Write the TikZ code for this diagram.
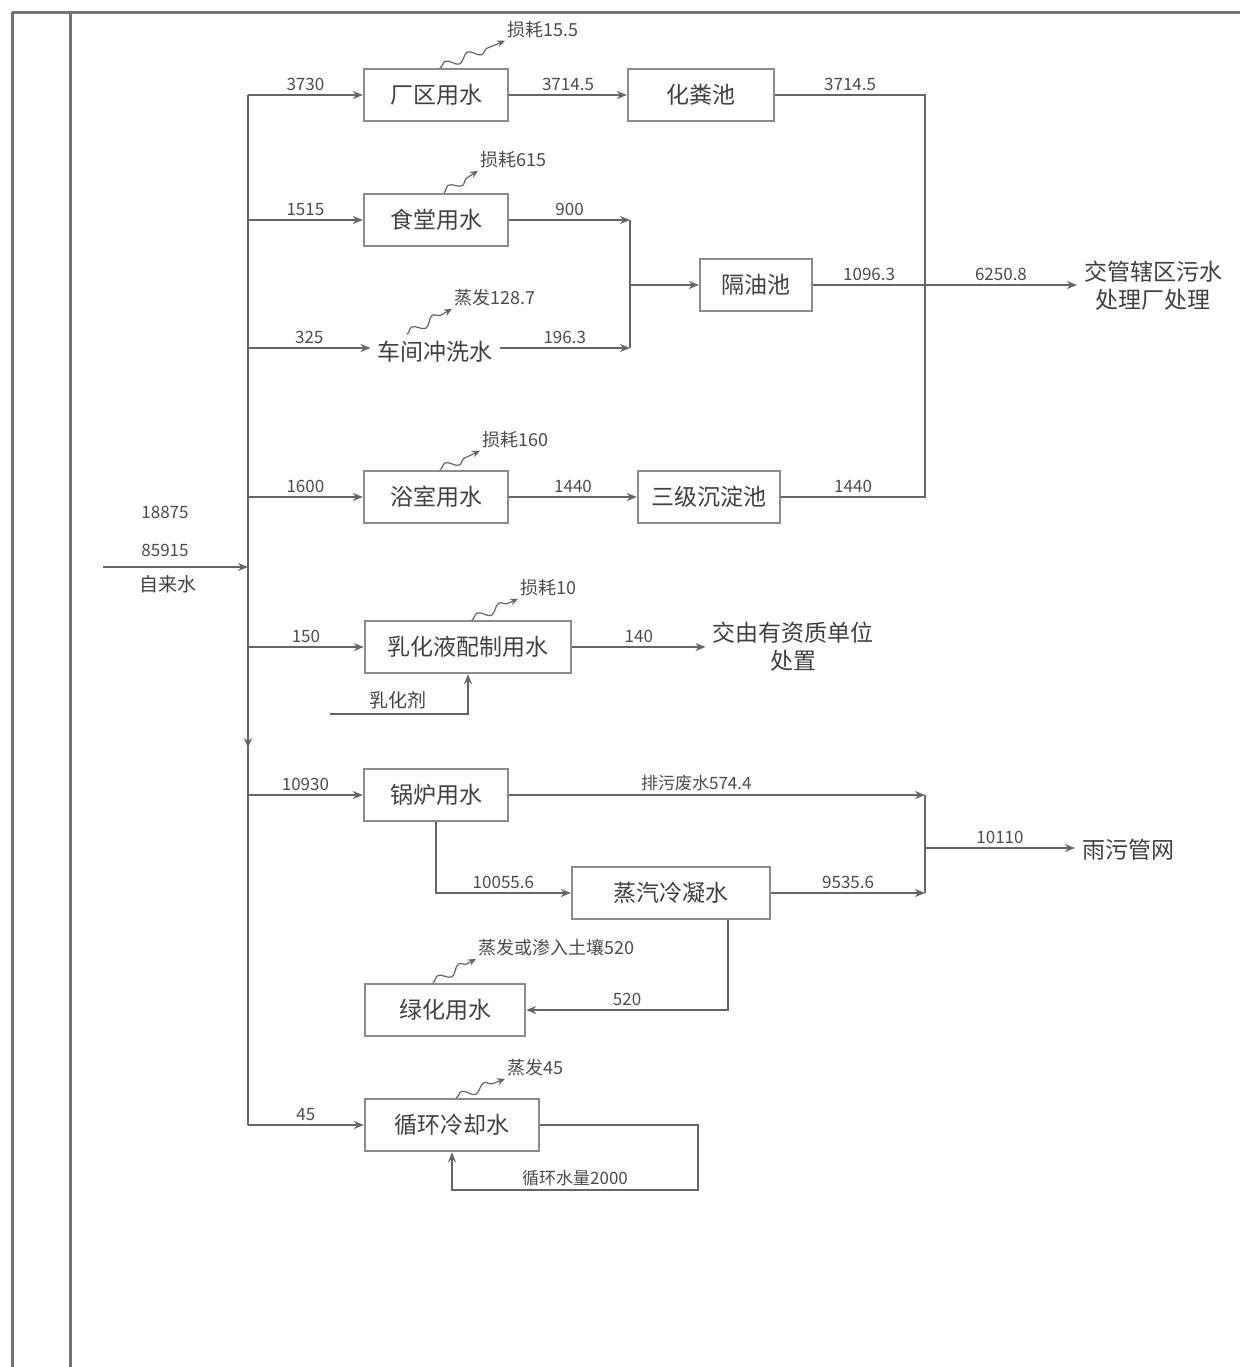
\documentclass[tikz,border=0pt]{standalone}
\usepackage{fontspec}
\setmainfont{Noto Sans CJK SC}
\usetikzlibrary{arrows.meta,positioning,decorations.pathmorphing}

\begin{document}
\begin{tikzpicture}[
    x=0.5pt, y=-0.5pt,
    % Units
    unit/.style={rectangle, draw=black!45, line width=1.2pt, minimum height=26pt, minimum width=72pt, inner xsep=4pt, font=\fontsize{11.5}{13}\selectfont, text=black!75},
    plain/.style={font=\fontsize{11.5}{14}\selectfont, text=black!75, align=center},
    % Flows
    flow/.style={-{Stealth[length=5pt,width=4pt]}, line width=1pt, draw=black!60},
    pipe/.style={line width=1pt, draw=black!60},
    num/.style={font=\fontsize{8.5}{10}\selectfont, text=black!70, inner sep=1.5pt},
    % Losses
    loss/.style={-{Stealth[length=4pt,width=3.5pt]}, draw=black!60, semithick, decorate, decoration={snake, amplitude=2pt, segment length=12pt, post length=4pt}},
    losslabel/.style={font=\fontsize{9}{10}\selectfont, text=black!70, anchor=west, inner sep=1pt},
    frame/.style={line width=1.5pt, draw=black!55}
]
\useasboundingbox (0,0) rectangle (1240,1367);

% Frame
\draw[frame] (12,12) -- (1240,12);
\draw[frame] (12,12) -- (12,1367);
\draw[frame] (70,12) -- (70,1367);

% Units
\node[unit] (u1) at (436,95) {厂区用水};
\node[unit, minimum width=73pt] (u2) at (701,95) {化粪池};
\node[unit] (u3) at (436,220) {食堂用水};
\node[plain] (u4) at (435,352) {车间冲洗水};
\node[unit, minimum width=56pt] (u5) at (756,285) {隔油池};
\node[unit] (u6) at (436,497) {浴室用水};
\node[unit, minimum width=71pt] (u7) at (709,497) {三级沉淀池};
\node[unit, minimum width=103pt] (u8) at (468,647) {乳化液配制用水};
\node[unit] (u9) at (436,795) {锅炉用水};
\node[unit, minimum width=99pt] (u10) at (671,893) {蒸汽冷凝水};
\node[unit, minimum width=80pt] (u11) at (445,1010) {绿化用水};
\node[unit, minimum width=87pt] (u12) at (452,1125) {循环冷却水};

% Outlets
\node[plain] (out1) at (1153,286) {交管辖区污水\\处理厂处理};
\node[plain] (out2) at (793,647) {交由有资质单位\\处置};
\node[plain] (out3) at (1128,850) {雨污管网};
\node[plain, font=\fontsize{9.5}{11}\selectfont] (agent) at (398,700) {乳化剂};

% Source
\coordinate (src) at (103,567);
\coordinate (tin) at (248,567);
\node[num] (qin) at (165,512) {18875};
\node[num] (qin2) at (165,550) {85915};
\node[plain, font=\fontsize{9.5}{11}\selectfont] (tap) at (168,584) {自来水};
\draw[flow] (src) -- (tin);

% Main header
\coordinate (b1) at (248,95);
\coordinate (b2) at (248,1125);
\coordinate (bm) at (248,748);
\draw[pipe] (b1) -- (b2);
\draw[flow] (b1) -- (bm);

% Branches
\draw[flow] (b1) -- node[num, above] {3730} (u1.west);
\draw[flow] (u3.west -| b1) -- node[num, above] {1515} (u3.west);
\draw[flow] (b1 |- 0,348) -- node[num, above] {325} ([yshift=2pt]u4.west);
\draw[flow] (u6.west -| b1) -- node[num, above] {1600} (u6.west);
\draw[flow] (u8.west -| b1) -- node[num, above] {150} (u8.west);
\draw[flow] (u9.west -| b1) -- node[num, above] {10930} (u9.west);
\draw[flow] (b2) -- node[num, above] {45} (u12.west);

% Row 1
\draw[flow] (u1) -- node[num, above] {3714.5} (u2);

% Rows 2 and 3
\coordinate (j1) at (630,220);
\coordinate (j2) at (630,348);
\coordinate (j3) at (630,285);
\draw[flow] (u3.east) -- node[num, above] {900} (j1);
\draw[flow] ([yshift=2pt]u4.east) -- node[num, above] {196.3} (j2);
\draw[pipe] (j1) -- (j2);
\draw[flow] (j3) -- (u5.west);

% Row 4
\draw[flow] (u6) -- node[num, above] {1440} (u7);

% Collector to sewage plant
\coordinate (c1) at (925,95);
\coordinate (c2) at (925,497);
\coordinate (c3) at (925,285);
\draw[pipe] (u2.east) -- node[num, above] {3714.5} (c1) -- (c2) -- node[num, above] {1440} (u7.east);
\draw[pipe] (u5.east) -- node[num, above] {1096.3} (c3);
\draw[flow] (c3) -- node[num, above] {6250.8} (c3 -| out1.west);

% Row 5
\draw[flow] (u8.east) -- node[num, above] {140} (out2.west);
\coordinate (a1) at (330,714);
\coordinate (a2) at (468,714);
\draw[flow] (a1) -- (a2) -- (u8.south);

% Boiler
\coordinate (c4) at (925,795);
\coordinate (c5) at (925,893);
\coordinate (c6) at (925,848);
\draw[flow] (u9.east) -- node[num, above, pos=0.45] {排污废水574.4} (c4);
\draw[flow] (u9.south) |- node[num, above, pos=0.75] {10055.6} (u10.west);
\draw[flow] (u10.east) -- node[num, above] {9535.6} (c5);
\draw[pipe] (c4) -- (c5);
\draw[flow] (c6) -- node[num, above] {10110} (c6 -| out3.west);

% Greening
\coordinate (g1) at (728,920);
\draw[flow] (g1) |- node[num, above, pos=0.75] {520} (u11.east);

% Cooling loop
\coordinate (r1) at (698,1125);
\coordinate (r2) at (698,1190);
\coordinate (r3) at (452,1190);
\draw[flow] (u12.east) -- (r1) -- (r2) -- node[num, above] {循环水量2000} (r3) -- (u12.south);

% Losses
\node[losslabel] (l1) at (505,30) {损耗15.5};
\node[losslabel] (l2) at (478,160) {损耗615};
\node[losslabel] (l3) at (452,298) {蒸发128.7};
\node[losslabel] (l6) at (480,440) {损耗160};
\node[losslabel] (l8) at (518,588) {损耗10};
\node[losslabel] (l11) at (476,948) {蒸发或渗入土壤520};
\node[losslabel] (l12) at (505,1068) {蒸发45};
\draw[loss] ([xshift=2pt]u1.north) -- (l1.south west);
\draw[loss] ([xshift=4pt]u3.north) -- (l2.south west);
\draw[loss] ([xshift=-14pt]u4.north) -- (l3.south west);
\draw[loss] ([xshift=2pt]u6.north) -- (l6.south west);
\draw[loss] ([xshift=2pt]u8.north) -- (l8.south west);
\draw[loss] ([xshift=-6pt]u11.north) -- (l11.south west);
\draw[loss] ([xshift=2pt]u12.north) -- (l12.south west);

\end{tikzpicture}
\end{document}
